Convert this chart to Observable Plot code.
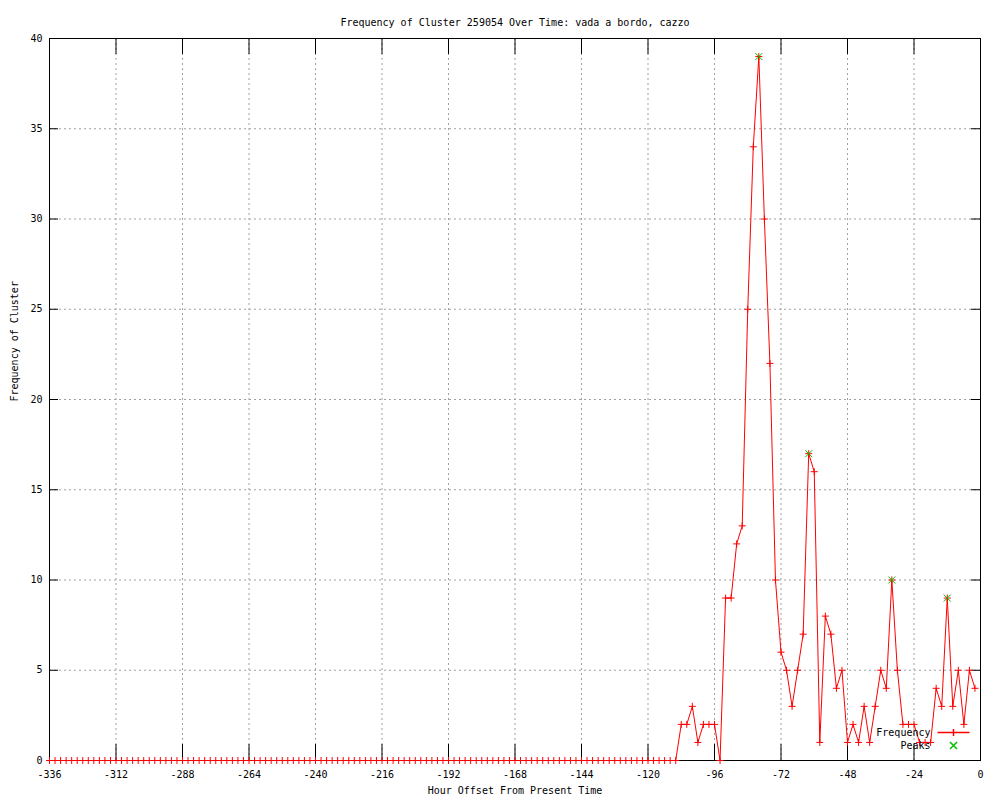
<!DOCTYPE html>
<html><head><meta charset="utf-8">
<script src="https://cdn.jsdelivr.net/npm/d3@7"></script>
<script src="https://cdn.jsdelivr.net/npm/@observablehq/plot@0.6"></script>
<style>body{margin:0;background:#fff} #chart svg{display:block}</style>
</head><body><div id="chart"></div>
<script>
const titleText = "Frequency of Cluster 259054 Over Time: vada a bordo, cazzo";
const xLabel = "Hour Offset From Present Time";
const yLabel = "Frequency of Cluster";

// one sample every 2 hours, from -336 to -2
const startHour = -336;
const stepHours = 2;
const frequency = [
  0,0,0,0,0,0,0,0,0,0, 0,0,0,0,0,0,0,0,0,0,
  0,0,0,0,0,0,0,0,0,0, 0,0,0,0,0,0,0,0,0,0,
  0,0,0,0,0,0,0,0,0,0, 0,0,0,0,0,0,0,0,0,0,
  0,0,0,0,0,0,0,0,0,0, 0,0,0,0,0,0,0,0,0,0,
  0,0,0,0,0,0,0,0,0,0, 0,0,0,0,0,0,0,0,0,0,
  0,0,0,0,0,0,0,0,0,0, 0,0,0,0,
  2,2,3,1,2,2,2,0,9,9,12,13,25,34,39,30,22,10,6,5,
  3,5,7,17,16,1,8,7,4,5,1,2,1,3,1,3,5,4,10,5,
  2,2,2,1,1,1,4,3,9,3,5,2,5,4
];
const hours = frequency.map((_, i) => startHour + i * stepHours);

const peakHours = [-80, -62, -32, -12];
const peakValues = [39, 17, 10, 9];

const xTicks = [-336,-312,-288,-264,-240,-216,-192,-168,-144,-120,-96,-72,-48,-24,0];
const yTicks = [0,5,10,15,20,25,30,35,40];

const series = hours.map((h, i) => ({h, v: frequency[i]}));
const peaks = peakHours.map((h, i) => ({h, v: peakValues[i]}));

const plusSym = {draw(ctx, size){ const r = Math.sqrt(size/Math.PI); ctx.moveTo(-r,0); ctx.lineTo(r,0); ctx.moveTo(0,-r); ctx.lineTo(0,r);} };
const timesSym = {draw(ctx, size){ const r = Math.sqrt(size/Math.PI); ctx.moveTo(-r,-r); ctx.lineTo(r,r); ctx.moveTo(-r,r); ctx.lineTo(r,-r);} };
const legendLineSym = {draw(ctx, size){ const r = Math.sqrt(size/Math.PI); ctx.moveTo(-16,0); ctx.lineTo(16,0); ctx.moveTo(0,-r); ctx.lineTo(0,r);} };

const W = 1000, H = 800, mL = 49, mR = 20, mT = 38, mB = 40;
const fw = W - mL - mR, fh = H - mT - mB;
const RED = "#ff0000", GREEN = "#00c000", GRID = "#a0a0a0";

const chart = Plot.plot({
  width: W, height: H,
  marginLeft: mL, marginRight: mR, marginTop: mT, marginBottom: mB,
  style: {fontFamily: "'DejaVu Sans Mono', monospace", fontSize: "10px", background: "#fff", color: "#000"},
  x: {domain: [-336, 0], label: null},
  y: {domain: [0, 40], label: null},
  marks: [
    Plot.gridX(xTicks, {stroke: GRID, strokeOpacity: 1, strokeDasharray: "2,3"}),
    Plot.gridY(yTicks, {stroke: GRID, strokeOpacity: 1, strokeDasharray: "2,3"}),
    Plot.line(series, {x: "h", y: "v", stroke: RED, strokeWidth: 1}),
    Plot.frame({stroke: "#000"}),
    // inward ticks (bottom, top, left, right)
    Plot.ruleX(xTicks, {x: d => d, insetTop: fh - 16, stroke: "#000"}),
    Plot.ruleX(xTicks, {x: d => d, insetBottom: fh - 16, stroke: "#000"}),
    Plot.ruleY(yTicks, {y: d => d, insetRight: fw - 9, stroke: "#000"}),
    Plot.ruleY(yTicks, {y: d => d, insetLeft: fw - 9, stroke: "#000"}),
    Plot.axisX(xTicks, {tickSize: 0, tickPadding: 10, tickFormat: d => String(d), fontSize: 10}),
    Plot.axisY(yTicks, {tickSize: 0, tickPadding: 7, tickFormat: d => String(d), fontSize: 10}),
    Plot.dot(series, {x: "h", y: "v", symbol: plusSym, r: 3.5, fill: "none", stroke: RED, strokeWidth: 1}),
    Plot.dot(peaks, {x: "h", y: "v", symbol: timesSym, r: 3.5, fill: "none", stroke: GREEN, strokeWidth: 1}),
    // legend
    Plot.text(["Frequency"], {frameAnchor: "bottom-right", text: d => d, textAnchor: "end", dx: -50, dy: -25, fill: "#000"}),
    Plot.dot(["Frequency"], {frameAnchor: "bottom-right", symbol: legendLineSym, r: 3.5, dx: -27, dy: -28, fill: "none", stroke: RED}),
    Plot.text(["Peaks"], {frameAnchor: "bottom-right", text: d => d, textAnchor: "end", dx: -50, dy: -12, fill: "#000"}),
    Plot.dot(["Peaks"], {frameAnchor: "bottom-right", symbol: timesSym, r: 3.5, dx: -27, dy: -15, fill: "none", stroke: GREEN}),
    // titles
    Plot.text([titleText], {frameAnchor: "top", text: d => d, dy: -20, fill: "#000"}),
    Plot.text([xLabel], {frameAnchor: "bottom", text: d => d, dy: 33, fill: "#000"}),
    Plot.text([yLabel], {frameAnchor: "left", text: d => d, rotate: -90, dx: -35, dy: 2, fill: "#000"})
  ]
});
document.getElementById("chart").append(chart);
</script>
</body></html>
